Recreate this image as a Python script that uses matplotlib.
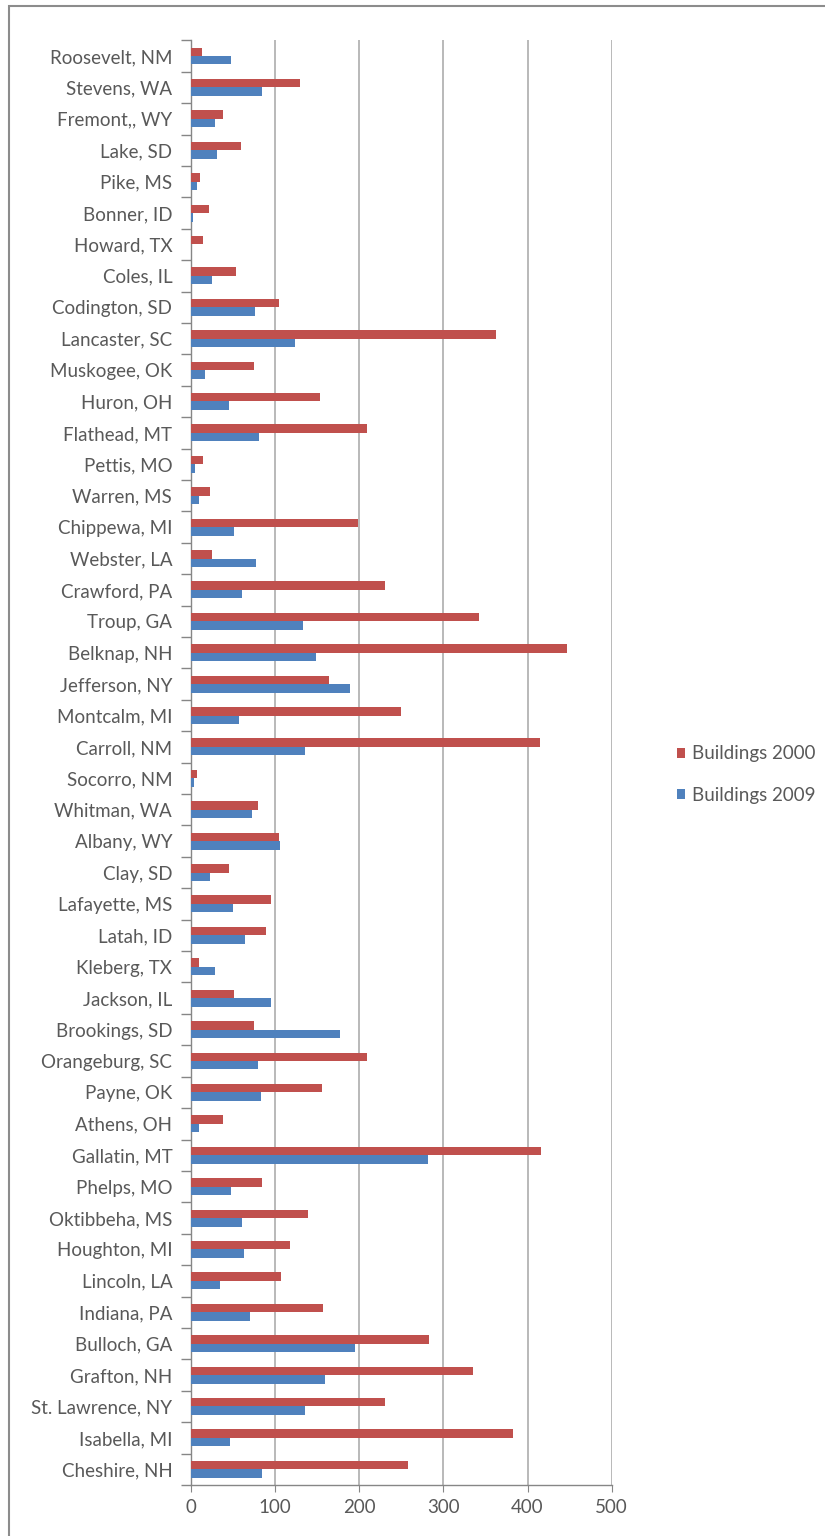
import matplotlib
matplotlib.use("Agg")
import matplotlib.pyplot as plt
from matplotlib.patches import Rectangle
import numpy as np

counties = ["Roosevelt, NM", "Stevens, WA", "Fremont,, WY", "Lake, SD", "Pike, MS",
            "Bonner, ID", "Howard, TX", "Coles, IL", "Codington, SD", "Lancaster, SC",
            "Muskogee, OK", "Huron, OH", "Flathead, MT", "Pettis, MO", "Warren, MS",
            "Chippewa, MI", "Webster, LA", "Crawford, PA", "Troup, GA", "Belknap, NH",
            "Jefferson, NY", "Montcalm, MI", "Carroll, NM", "Socorro, NM", "Whitman, WA",
            "Albany, WY", "Clay, SD", "Lafayette, MS", "Latah, ID", "Kleberg, TX",
            "Jackson, IL", "Brookings, SD", "Orangeburg, SC", "Payne, OK", "Athens, OH",
            "Gallatin, MT", "Phelps, MO", "Oktibbeha, MS", "Houghton, MI", "Lincoln, LA",
            "Indiana, PA", "Bulloch, GA", "Grafton, NH", "St. Lawrence, NY", "Isabella, MI",
            "Cheshire, NH"]

buildings_2000 = [13, 130, 38, 60, 11, 21, 14, 54, 104, 363,
                  75, 153, 209, 14, 22, 199, 25, 231, 342, 447,
                  164, 249, 415, 7, 80, 105, 45, 95, 89, 9,
                  51, 75, 209, 156, 38, 416, 84, 139, 118, 107,
                  157, 283, 335, 231, 383, 258]

buildings_2009 = [47, 84, 28, 31, 7, 2, 0, 25, 76, 124,
                  17, 45, 81, 5, 9, 51, 77, 61, 133, 148,
                  189, 57, 135, 4, 72, 106, 23, 50, 64, 29,
                  95, 177, 80, 83, 9, 282, 47, 61, 63, 34,
                  70, 195, 159, 136, 46, 84]

red = "#C0504D"
blue = "#4F81BD"
txt = "#595959"
fs = 13.5

plt.rcParams['font.family'] = ['Lato', 'DejaVu Sans']

fig = plt.figure(figsize=(8.25, 15.36), dpi=100)
ax = fig.add_axes([191 / 825, 1 - 1485 / 1536, (611.7 - 191) / 825, (1485 - 40.3) / 1536])

y = np.arange(len(counties))
h = 0.27
ax.barh(y - h / 2, buildings_2000, height=h, color=red, label="Buildings 2000", zorder=3)
ax.barh(y + h / 2, buildings_2009, height=h, color=blue, label="Buildings 2009", zorder=3)

ax.set_ylim(len(counties) - 0.5, -0.5)
ax.set_xlim(0, 500)
ax.set_xticks([0, 100, 200, 300, 400, 500])
ax.set_yticks(y)
ax.set_yticklabels(counties)
ax.set_yticks(np.arange(-0.5, len(counties), 1), minor=True)
ax.tick_params(axis='y', which='major', length=0, pad=13.5, labelsize=fs, labelcolor=txt)
ax.tick_params(axis='y', which='minor', length=7, color="#868686", width=1)
ax.tick_params(axis='x', length=5, color="#868686", labelsize=fs, labelcolor=txt, pad=5)
ax.xaxis.grid(True, color="#b3b3b3", linewidth=1.3, zorder=0)

for s in ["top", "right"]:
    ax.spines[s].set_visible(False)
for s in ["left", "bottom"]:
    ax.spines[s].set_color("#868686")
    ax.spines[s].set_linewidth(1)

leg = ax.legend(loc="center left", bbox_to_anchor=(1.115, 0.4917), frameon=False,
                handlelength=0.45, handleheight=0.45, handletextpad=0.35,
                labelspacing=1.3, fontsize=fs)
for t in leg.get_texts():
    t.set_color(txt)

fig.patches.append(Rectangle((8.5 / 825, -0.1), 1.2, 1.1 - 5.5 / 1536, transform=fig.transFigure,
                             fill=False, edgecolor="#8c8c8c", linewidth=1.5))

fig.savefig("out.png", dpi=100)
